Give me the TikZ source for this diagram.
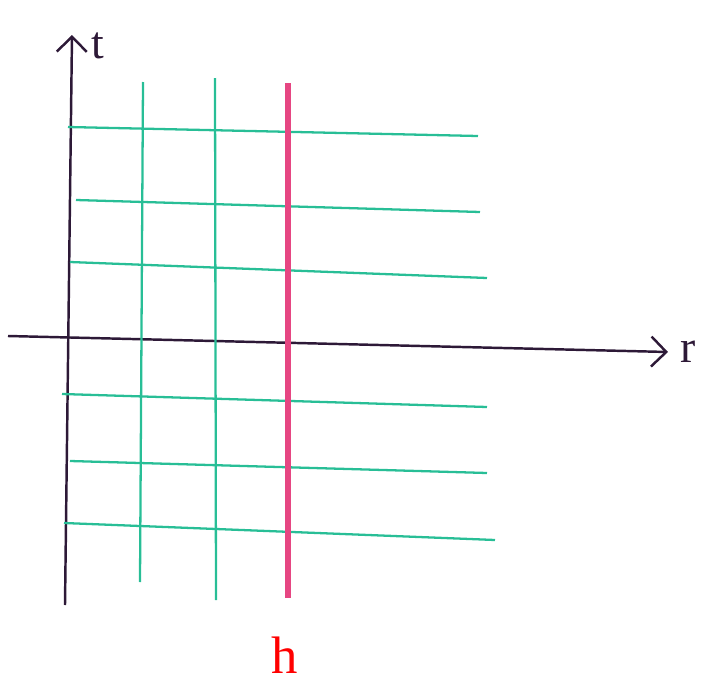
\documentclass[tikz,border=0pt]{standalone}
\usepackage{fontspec}
\setmainfont{Liberation Serif}
\usetikzlibrary{arrows.meta}
\definecolor{axiscol}{RGB}{45,25,55}
\definecolor{gridcol}{RGB}{40,190,150}
\definecolor{horcol}{RGB}{230,70,130}
\begin{document}
\begin{tikzpicture}[
    x=0.02cm, y=-0.02cm,
    axis/.style={-{Straight Barb[length=3mm]}, axiscol, line width=1.4pt},
    gridline/.style={gridcol, line width=1.3pt},
    horizon/.style={horcol, line width=3.5pt},
    lbl/.style={font=\fontsize{26}{28}\selectfont}
  ]
    \useasboundingbox (0,0) rectangle (711,683);
    % axes
    \coordinate (o1) at (65,605);
    \coordinate (o2) at (72,35);
    \coordinate (r1) at (8,336);
    \coordinate (r2) at (668,352);
    \draw[axis] (o1) -- (o2);
    \draw[axis] (r1) -- (r2);
    \node[lbl, axiscol] (tlab) at (98,46) {t};
    \node[lbl, axiscol] (rlab) at (688,352) {r};
    % horizontal lines
    \foreach \ya/\yb/\xa/\xb [count=\i] in {127/136/68/478, 200/212/76/480, 262/278/70/487, 394/407/62/487, 461/473/70/487, 523/540/64/495} {
      \coordinate (ha\i) at (\xa,\ya);
      \coordinate (hb\i) at (\xb,\yb);
      \draw[gridline] (ha\i) -- (hb\i);
    }
    % vertical lines
    \coordinate (va1) at (143,82);  \coordinate (vb1) at (140,582);
    \coordinate (va2) at (215,78);  \coordinate (vb2) at (216,600);
    \draw[gridline] (va1) -- (vb1);
    \draw[gridline] (va2) -- (vb2);
    \coordinate (ha) at (288,83);  \coordinate (hb) at (288,598);
    \draw[horizon] (ha) -- (hb);
    \node[text=red, font=\fontsize{30}{32}\selectfont] (hlab) at (285,655) {h};
  \end{tikzpicture}
\end{document}
